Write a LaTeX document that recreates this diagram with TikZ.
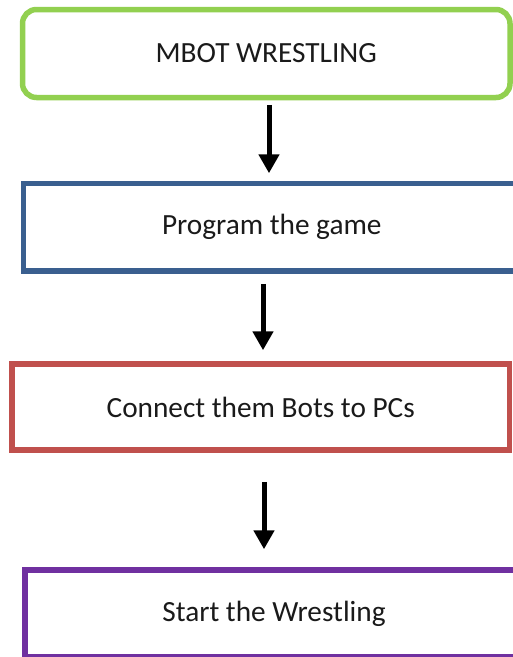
\documentclass[tikz,border=0pt]{standalone}
\usepackage{fontspec}
\setmainfont{Carlito}
\usetikzlibrary{arrows.meta}
\definecolor{cgreen}{HTML}{92D050}
\definecolor{cblue}{HTML}{3A5F8F}
\definecolor{cred}{HTML}{C0504D}
\definecolor{cpurple}{HTML}{7030A0}
\definecolor{ctext}{HTML}{1A1A1A}
\tikzset{
  stepbox/.style={draw, line width=5.5pt, fill=white, minimum height=88pt,
    inner sep=0pt, text=ctext, font=\fontsize{29.3}{34}\selectfont},
  arr/.style={line width=5pt, -{Triangle[width=20pt,length=19pt]}}
}
\begin{document}
\begin{tikzpicture}[x=1pt,y=-1pt]
\useasboundingbox (0,0) rectangle (513,657);
\clip (0,0) rectangle (513,657);
\node[stepbox, draw=cgreen, rounded corners=14pt, minimum width=487.5pt] (b1) at (266.25,53.5) {MBOT WRESTLING};
\node[stepbox, draw=cblue, minimum width=496.5pt, minimum height=87.5pt] (b2) at (271.75,227.25) {Program the game};
\node[stepbox, draw=cred, minimum width=497.5pt, minimum height=86pt] (b3) at (260.75,407) {Connect them Bots to PCs};
\node[stepbox, draw=cpurple, minimum width=498pt, minimum height=87pt] (b4) at (274,613.5) {Start the Wrestling};
\draw[arr] ([xshift=2.75pt,yshift=-4.5pt]b1.south) -- ([xshift=-2.75pt,yshift=7.5pt]b2.north);
\draw[arr] ([xshift=-8.75pt,yshift=-10pt]b2.south) -- ([xshift=2.25pt,yshift=11pt]b3.north);
\draw[arr] ([xshift=3.25pt,yshift=-29pt]b3.south) -- ([xshift=-10pt,yshift=18pt]b4.north);
\end{tikzpicture}
\end{document}
